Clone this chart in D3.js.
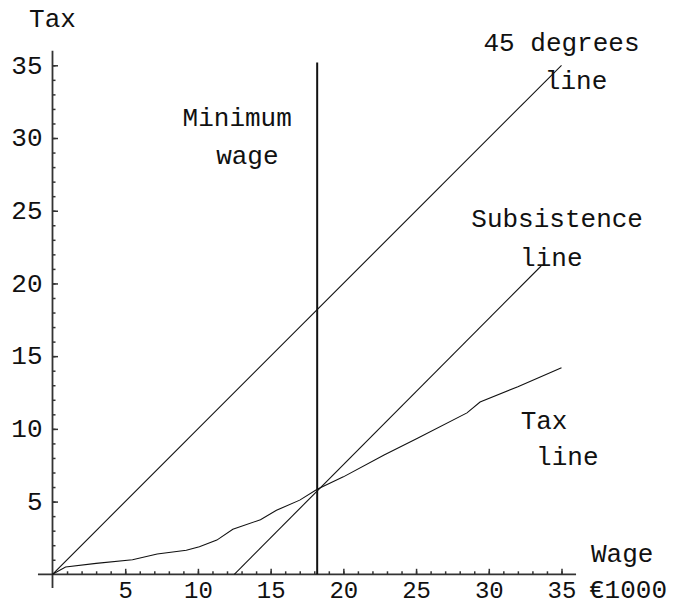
<!DOCTYPE html>
<html>
<head>
<meta charset="utf-8">
<script src="https://cdn.jsdelivr.net/npm/d3@7"></script>
<style>
  html, body { margin: 0; padding: 0; background: #fff; }
  svg { display: block; }
  text { font-family: "Liberation Mono", "Courier New", monospace; fill: #111; }
</style>
</head>
<body>
<svg id="chart" width="677" height="606"></svg>
<script>
// ---- data ----
const line45 = [[0, 0], [35, 35]];
const subsistenceLine = [[12.5, 0], [33.6, 21.2]];
const taxLine = [
  [0, 0], [0.9, 0.5], [3, 0.75], [5.5, 1.0], [7.2, 1.4], [9.2, 1.65], [10.1, 1.9],
  [11.3, 2.35], [12.4, 3.1], [14.3, 3.75], [15.4, 4.4], [17, 5.1], [18.2, 5.85],
  [20, 6.7], [22.8, 8.2], [25.1, 9.35], [28.5, 11.1], [29.4, 11.85], [32, 12.9], [35, 14.2]
];
const minimumWage = 18.2;
const minimumWageTop = 35.2;
const majorTicks = [5, 10, 15, 20, 25, 30, 35];
const minorTicks = d3.range(1, 36);
const xTitle = ["Wage", "\u20ac1000"];
const yTitle = "Tax";
const labels = [
  { lines: ["45 degrees", "line"], x: [35.0, 36.0], y: [36.0, 33.4] },
  { lines: ["Subsistence", "line"], x: [34.7, 34.3], y: [23.9, 21.2] },
  { lines: ["Tax", "line"], x: [33.8, 35.4], y: [10, 7.5] },
  { lines: ["Minimum", "wage"], x: [12.7, 13.4], y: [30.8, 28.2] }
];

// ---- layout ----
const svg = d3.select("#chart");
const x = d3.scaleLinear().domain([0, 35]).range([52.5, 561.5]);
const y = d3.scaleLinear().domain([0, 35]).range([574.3, 65.3]);

const axisColor = "#333";

// axis lines
svg.append("line")
  .attr("x1", x(-1)).attr("x2", x(36.0))
  .attr("y1", y(0)).attr("y2", y(0))
  .attr("stroke", axisColor).attr("stroke-width", 1.8);
svg.append("line")
  .attr("x1", x(0)).attr("x2", x(0))
  .attr("y1", y(-0.95)).attr("y2", y(36.0))
  .attr("stroke", axisColor).attr("stroke-width", 1.8);

// minor ticks
const gxMinor = svg.append("g").attr("transform", `translate(0,${y(0)})`)
  .call(d3.axisBottom(x).tickValues(minorTicks).tickSize(-3).tickFormat(""));
const gyMinor = svg.append("g").attr("transform", `translate(${x(0)},0)`)
  .call(d3.axisLeft(y).tickValues(minorTicks).tickSize(-3).tickFormat(""));
// major ticks with labels
const gx = svg.append("g").attr("transform", `translate(0,${y(0)})`)
  .call(d3.axisBottom(x).tickValues(majorTicks).tickSize(-5.5).tickPadding(7).tickFormat(d3.format("d")));
const gy = svg.append("g").attr("transform", `translate(${x(0)},0)`)
  .call(d3.axisLeft(y).tickValues(majorTicks).tickSize(-5.5).tickPadding(10).tickFormat(d3.format("d")));

[gxMinor, gyMinor, gx, gy].forEach(g => {
  g.select(".domain").remove();
  g.selectAll(".tick line").attr("stroke", axisColor).attr("stroke-width", 1.5);
  g.selectAll("text")
    .attr("font-family", '"Liberation Mono", "Courier New", monospace')
    .attr("font-size", 26).attr("fill", "#222");
});
gy.selectAll("text").attr("dy", "0.3em");
gx.selectAll("text").attr("font-size", 24).attr("dy", "0.68em");

// data lines
const lineGen = d3.line().x(d => x(d[0])).y(d => y(d[1]));
[line45, subsistenceLine, taxLine].forEach(data => {
  svg.append("path").datum(data)
    .attr("d", lineGen)
    .attr("fill", "none").attr("stroke", "#111").attr("stroke-width", 1.1);
});

// minimum wage vertical line
svg.append("line")
  .attr("x1", x(minimumWage)).attr("x2", x(minimumWage))
  .attr("y1", y(0)).attr("y2", y(minimumWageTop))
  .attr("stroke", "#111").attr("stroke-width", 2);

// labels
labels.forEach(l => {
  l.lines.forEach((t, i) => {
    svg.append("text")
      .attr("x", x(l.x[i])).attr("y", y(l.y[i]))
      .attr("text-anchor", "middle")
      .attr("font-size", 26)
      .text(t);
  });
});

// axis titles
svg.append("text").attr("x", x(0)).attr("y", 27).attr("text-anchor", "middle")
  .attr("font-size", 26).text(yTitle);
svg.append("text").attr("x", 591).attr("y", 562).attr("font-size", 26).text(xTitle[0]);
svg.append("text").attr("x", 589).attr("y", 598).attr("font-size", 26).text(xTitle[1]);
</script>
</body>
</html>
